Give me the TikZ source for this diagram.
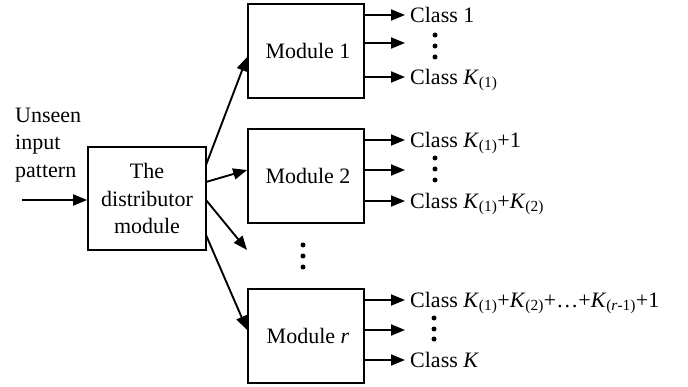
\documentclass[tikz,border=0pt]{standalone}
\usepackage{fontspec}
\setmainfont{Liberation Serif}
\usetikzlibrary{arrows.meta}
\newcommand\Ksub[1]{\textit{K}\textsubscript{(#1)}}
\begin{document}
\begin{tikzpicture}[x=1pt,y=-1pt,
  txt/.style={font=\fontsize{22}{27.5}\selectfont},
  box/.style={draw,line width=1.7pt,minimum width=116pt,minimum height=94pt,inner sep=0pt,txt},
  arr/.style={line width=1.9pt,-{Triangle[length=14pt,width=11pt]}},
  lbl/.style={anchor=base west,inner sep=0pt,xshift=5pt,yshift=-7.3pt,txt},
  dot/.style={circle,fill,inner sep=0pt,minimum size=5pt}]
\useasboundingbox (0,0) rectangle (688,387);

% boxes
\node[box,minimum width=118pt,minimum height=103pt,align=center] (dist) at (147,198.5) {The\\distributor\\module};
\node[box] (m1) at (306,51) {\hspace*{4pt}Module 1};
\node[box] (m2) at (306,176) {\hspace*{4pt}Module 2};
\node[box] (mr) at (306,336) {\hspace*{4pt}Module \textit{r}};

% input
\node[txt,anchor=north west,inner sep=0pt,align=left] (inp) at (15,107.5) {Unseen\\input\\pattern};
\coordinate (in0) at (22,200);
\draw[arr] (in0) -- (dist.west |- in0);

% distributor to modules
\coordinate (d1) at (206,165);
\coordinate (d2) at (206,182);
\coordinate (d3) at (206,200);
\coordinate (d4) at (206,235);
\coordinate (dd) at (247,250);
\draw[arr] (d1) -- (m1.west |- 0,57);
\draw[arr] (d2) -- (m2.west |- 0,170);
\draw[arr] (d3) -- (dd);
\draw[arr] (d4) -- (mr.west |- 0,330);

% vertical dots between modules
\node[dot] (vd1) at (303,245) {};
\node[dot] (vd2) at (303,256) {};
\node[dot] (vd3) at (303,267) {};

% module 1 outputs
\coordinate (t11) at (405,15);
\coordinate (t12) at (405,43);
\coordinate (t13) at (405,77);
\draw[arr] (m1.east |- t11) -- (t11);
\draw[arr] (m1.east |- t12) -- (t12);
\draw[arr] ([xshift=-2pt]m1.east |- t13) -- (t13);
\node[lbl] (c11) at (t11) {Class 1};
\node[lbl] (c13) at (t13) {Class \Ksub{1}};
\node[dot] at (435,35) {};
\node[dot] at (435,46) {};
\node[dot] at (435,57) {};

% module 2 outputs
\coordinate (t21) at (405,140);
\coordinate (t22) at (405,170);
\coordinate (t23) at (405,201);
\draw[arr] (m2.east |- t21) -- (t21);
\draw[arr] (m2.east |- t22) -- (t22);
\draw[arr] ([xshift=-2pt]m2.east |- t23) -- (t23);
\node[lbl] (c21) at (t21) {Class \Ksub{1}+1};
\node[lbl] (c23) at (t23) {Class \Ksub{1}+\Ksub{2}};
\node[dot] at (435,158) {};
\node[dot] at (435,169) {};
\node[dot] at (435,180) {};

% module r outputs
\coordinate (tr1) at (405,300);
\coordinate (tr2) at (405,330);
\coordinate (tr3) at (405,360);
\draw[arr] (mr.east |- tr1) -- (tr1);
\draw[arr] (mr.east |- tr2) -- (tr2);
\draw[arr] ([xshift=-2pt]mr.east |- tr3) -- (tr3);
\node[lbl] (cr1) at (tr1) {Class \Ksub{1}+\Ksub{2}+\ldots+\Ksub{\textit{r}-1}+1};
\node[lbl] (cr3) at (tr3) {Class \textit{K}};
\node[dot] at (434,318) {};
\node[dot] at (434,329) {};
\node[dot] at (434,339) {};
\end{tikzpicture}
\end{document}
